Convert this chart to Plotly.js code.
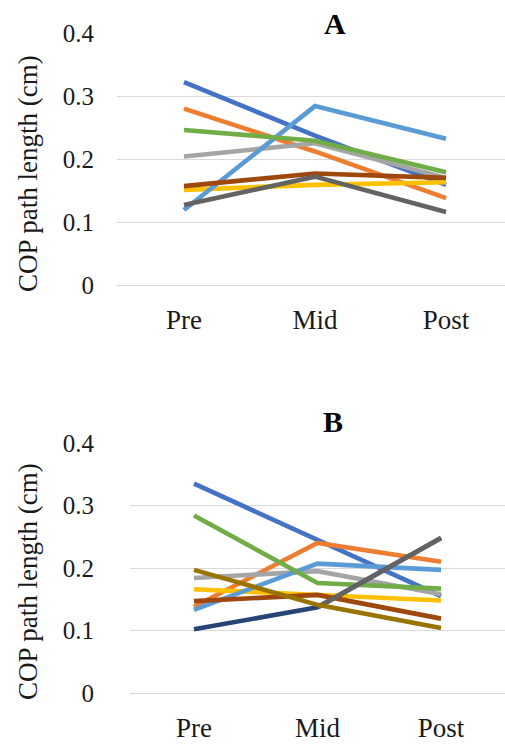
<!DOCTYPE html>
<html>
<head>
<meta charset="utf-8">
<script src="https://cdn.plot.ly/plotly-3.0.1.min.js"></script>
<style>html,body{margin:0;padding:0;background:#fff;}#chart{width:505px;height:745px;}</style>
</head>
<body>
<div id="chart"></div>
<script>
// Categories and tick labels
const categories = ["Pre", "Mid", "Post"];
const yTickVals = [0, 0.1, 0.2, 0.3, 0.4];
const yTickText = ["0", "0.1", "0.2", "0.3", "0.4"];
const yTitle = "COP path length (cm)";

// Panel A series (COP path length, cm)
const a_blue      = [0.322, 0.237, 0.159];
const a_orange    = [0.280, 0.212, 0.138];
const a_gray      = [0.204, 0.225, 0.170];
const a_yellow    = [0.151, 0.159, 0.163];
const a_lightblue = [0.119, 0.284, 0.232];
const a_green     = [0.246, 0.229, 0.179];
const a_brown     = [0.157, 0.177, 0.170];
const a_darkgray  = [0.127, 0.172, 0.116];

// Panel B series
const b_blue      = [0.335, 0.245, 0.155];
const b_orange    = [0.138, 0.240, 0.210];
const b_gray      = [0.184, 0.195, 0.158];
const b_yellow    = [0.166, 0.157, 0.148];
const b_lightblue = [0.133, 0.207, 0.197];
const b_green     = [0.284, 0.176, 0.167];
const b_navy      = [0.102, 0.137, 0.248];
const b_brown     = [0.147, 0.157, 0.119];
const b_darkgray  = [null, 0.137, 0.248];
const b_olive     = [0.197, 0.141, 0.104];

const C = {blue:"#4472C4", orange:"#ED7D31", gray:"#A5A5A5", yellow:"#FFC000", lightblue:"#5B9BD5",
  green:"#70AD47", navy:"#264478", brown:"#9E480E", darkgray:"#636363", olive:"#997300"};

const LW = 4.6;
function tr(y, color, ax) {
  return {x: categories, y: y, type: "scatter", mode: "lines", xaxis: ax[0], yaxis: ax[1],
    line: {color: color, width: LW}, connectgaps: false, hoverinfo: "skip", showlegend: false};
}
const A = ["x", "y"], B = ["x2", "y2"];
const data = [
  tr(a_blue, C.blue, A), tr(a_orange, C.orange, A), tr(a_gray, C.gray, A), tr(a_yellow, C.yellow, A),
  tr(a_lightblue, C.lightblue, A), tr(a_green, C.green, A), tr(a_brown, C.brown, A), tr(a_darkgray, C.darkgray, A),
  tr(b_blue, C.blue, B), tr(b_orange, C.orange, B), tr(b_gray, C.gray, B), tr(b_yellow, C.yellow, B),
  tr(b_lightblue, C.lightblue, B), tr(b_green, C.green, B), tr(b_navy, C.navy, B), tr(b_brown, C.brown, B),
  tr(b_darkgray, C.darkgray, B), tr(b_olive, C.olive, B)
];

const FONT = "Liberation Serif";
const H = 745, W = 505;
function py(px) { return (H - px) / H; }
function pxx(px) { return px / W; }

function yax(domain) {
  return {domain: domain, range: [0, 0.4], tickvals: yTickVals, ticktext: yTickText,
    showgrid: true, gridcolor: "#d9d9d9", gridwidth: 1, zeroline: true, zerolinecolor: "#d9d9d9", zerolinewidth: 1,
    showline: false, ticks: "", ticklabelstandoff: 22, tickfont: {family: FONT, size: 25, color: "#1a1a1a"}, fixedrange: true};
}
function xax(domain, range, anchor) {
  return {domain: domain, range: range, type: "category", categoryarray: categories, anchor: anchor,
    showgrid: false, zeroline: false, showline: false, ticks: "", ticklabelstandoff: 16,
    tickfont: {family: FONT, size: 27, color: "#1a1a1a"}, fixedrange: true};
}

const layout = {
  width: W, height: H, margin: {l: 0, r: 0, t: 0, b: 0},
  paper_bgcolor: "#fff", plot_bgcolor: "#fff", showlegend: false,
  font: {family: FONT},
  xaxis: xax([pxx(117), 1], [-0.511, 2.45], "y"),
  yaxis: yax([py(285), py(33)]),
  xaxis2: xax([pxx(130), 1], [-0.518, 2.518], "y2"),
  yaxis2: yax([py(693), py(443)]),
  annotations: [
    {text: yTitle, textangle: -90, xref: "paper", yref: "paper", x: pxx(28), y: py(174), xanchor: "center", yanchor: "middle",
      showarrow: false, font: {family: FONT, size: 27, color: "#1a1a1a"}},
    {text: yTitle, textangle: -90, xref: "paper", yref: "paper", x: pxx(28), y: py(582), xanchor: "center", yanchor: "middle",
      showarrow: false, font: {family: FONT, size: 27, color: "#1a1a1a"}},
    {text: "<b>A</b>", xref: "paper", yref: "paper", x: pxx(335), y: py(24), xanchor: "center", yanchor: "middle",
      showarrow: false, font: {family: FONT, size: 30, color: "#000"}},
    {text: "<b>B</b>", xref: "paper", yref: "paper", x: pxx(333), y: py(421), xanchor: "center", yanchor: "middle",
      showarrow: false, font: {family: FONT, size: 30, color: "#000"}}
  ]
};

Plotly.newPlot("chart", data, layout, {displayModeBar: false, staticPlot: true});
</script>
</body>
</html>
